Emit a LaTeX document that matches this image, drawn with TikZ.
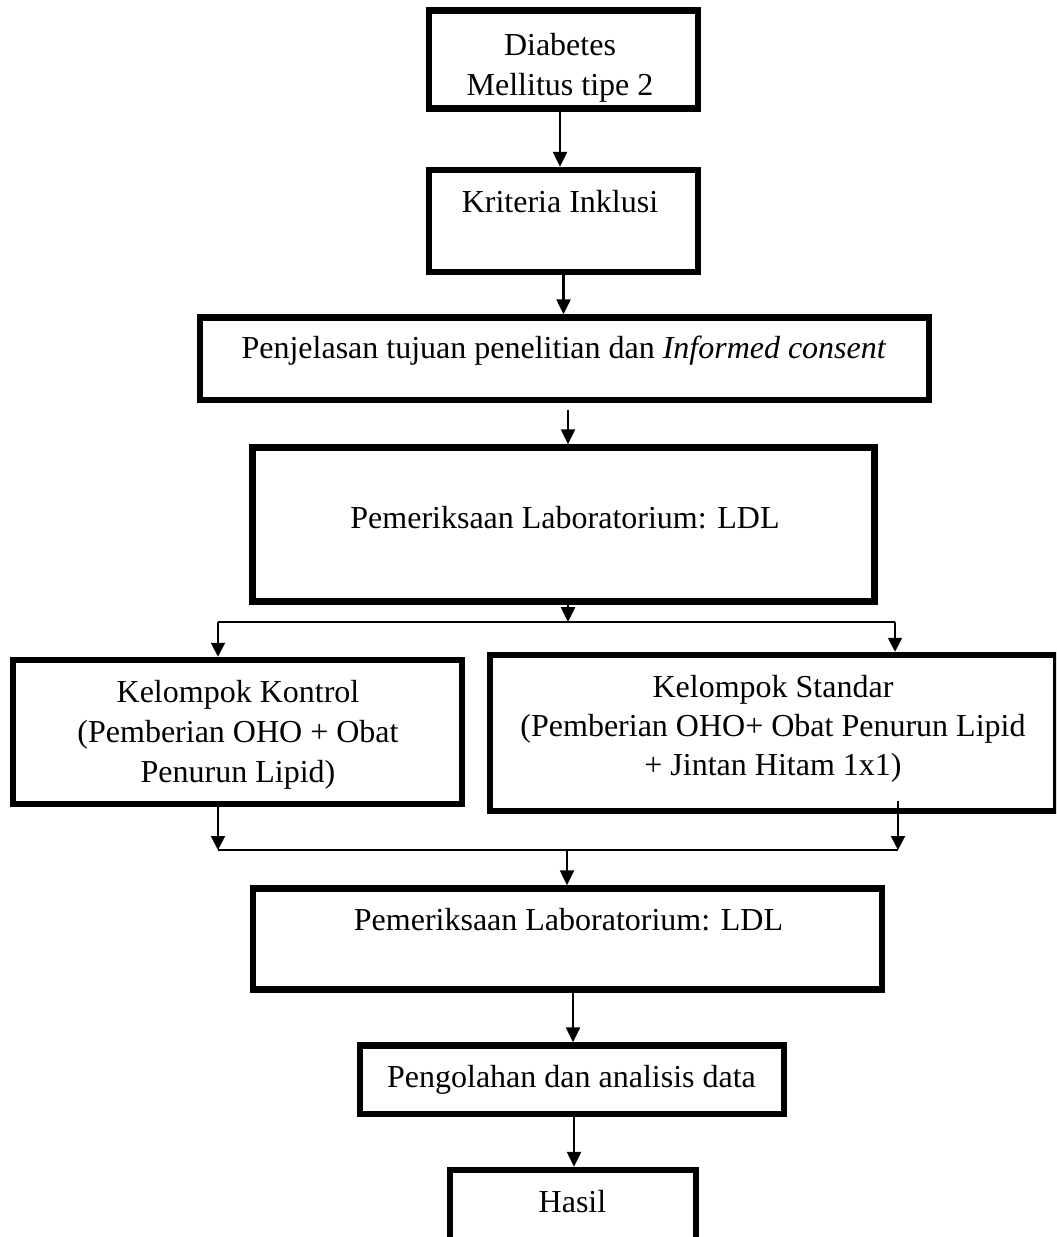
\documentclass[tikz,border=0pt]{standalone}
\usepackage{fontspec}
\setmainfont{Liberation Serif}
\usetikzlibrary{arrows.meta}
\begin{document}
\begin{tikzpicture}[x=0.5pt,y=-0.5pt,
  box/.style={draw, line width=3.25pt, inner sep=0pt},
  txt/.style={anchor=base, inner sep=0pt, font=\fontsize{16pt}{20pt}\selectfont},
  arr/.style={line width=1.25pt, -{Triangle[width=7pt,length=7.5pt]}},
  sarr/.style={line width=1pt, -{Triangle[width=7pt,length=7pt]}},
  hline/.style={line width=0.65pt}]
\clip (0,0) rectangle (1056,1237);
\fill[white] (0,0) rectangle (1056,1237);
% boxes
\node[box, minimum width=134.5pt, minimum height=49pt]   (b1) at (563.5,59.5) {};
\node[box, minimum width=134.5pt, minimum height=51pt]   (b2) at (563.5,221) {};
\node[box, minimum width=364.5pt, minimum height=41.25pt] (b3) at (564.5,358.75) {};
\node[box, minimum width=311pt, minimum height=77pt]     (b4) at (563.5,524.5) {};
\node[box, minimum width=224.5pt, minimum height=72pt]   (b5) at (237.5,732) {};
\node[box, minimum width=283pt, minimum height=78pt]     (b6) at (773,733) {};
\node[box, minimum width=314.5pt, minimum height=50.5pt] (b7) at (567.5,939) {};
\node[box, minimum width=212pt, minimum height=34.25pt]  (b8) at (572,1079.75) {};
\node[box, minimum width=123pt, minimum height=50pt]     (b9) at (573,1220) {};
% texts
\node[txt] (t1) at (560,55) {\begin{tabular}[t]{@{}c@{}}Diabetes\\Mellitus tipe 2\end{tabular}};
\node[txt] (t2) at (560,212) {Kriteria Inklusi};
\node[txt] (t3) at (564,358) {Penjelasan tujuan penelitian dan \textit{Informed consent}};
\node[txt] (t4) at (565,528) {Pemeriksaan Laboratorium: LDL};
\node[txt] (t5) at (238,702) {\begin{tabular}[t]{@{}c@{}}Kelompok Kontrol\\(Pemberian OHO + Obat\\Penurun Lipid)\end{tabular}};
\node[txt, font=\fontsize{16pt}{19.5pt}\selectfont] (t6) at (773,697) {\begin{tabular}[t]{@{}c@{}}Kelompok Standar\\(Pemberian OHO+ Obat Penurun Lipid\\+ Jintan Hitam 1x1)\end{tabular}};
\node[txt] (t7) at (568.5,930) {Pemeriksaan Laboratorium: LDL};
\node[txt] (t8) at (571.5,1087) {Pengolahan dan analisis data};
\node[txt] (t9) at (572.5,1212) {Hasil};
% connectors
\draw[arr] ([xshift=-1.75pt]b1.south) -- ([xshift=-1.75pt]b2.north);
\draw[arr] (b2.south) -- (b2.south |- b3.north);
\coordinate (c3) at (568,410);
\draw[arr] (c3) -- (c3 |- b4.north);
\coordinate (bl) at (218,622);
\coordinate (bc) at (568,622);
\coordinate (bR) at (895,622);
\draw[arr] (b4.south -| bc) -- (bc);
\draw[hline] (bl) -- (bR);
\draw[sarr] (bl) -- (bl |- b5.north);
\draw[sarr] (bR) -- (bR |- b6.north);
\coordinate (ml) at (218,850);
\coordinate (mc) at (567,850);
\coordinate (mr) at (898,850);
\coordinate (s6) at (898,801);
\draw[sarr] (b5.south -| ml) -- (ml);
\draw[sarr] (s6) -- (mr);
\draw[hline] (ml) -- (mr);
\draw[arr] (mc) -- (mc |- b7.north);
\draw[arr] ([xshift=2.75pt]b7.south) -- ([xshift=2.75pt]b7.south |- b8.north);
\draw[arr] ([xshift=1pt]b8.south) -- ([xshift=1pt]b8.south |- b9.north);
\end{tikzpicture}
\end{document}
